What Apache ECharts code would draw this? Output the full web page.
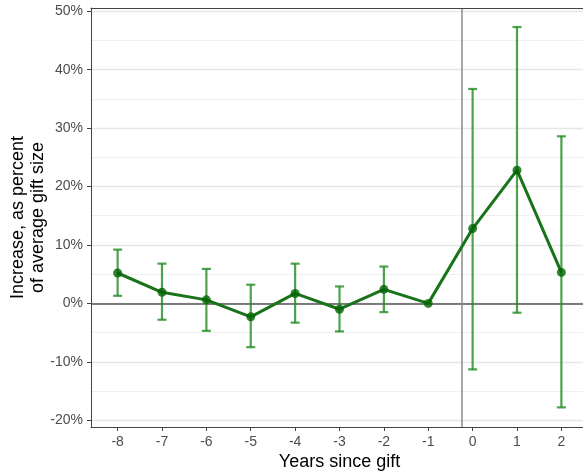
<!DOCTYPE html>
<html>
<head>
<meta charset="utf-8">
<script src="https://cdn.jsdelivr.net/npm/echarts@6/dist/echarts.min.js"></script>
<style>
html,body{margin:0;padding:0;background:#fff;}
#chart{width:583px;height:475px;}
</style>
</head>
<body>
<div id="chart"></div>
<script>
const years = [-8, -7, -6, -5, -4, -3, -2, -1, 0, 1, 2];
const estimate = [5.2, 1.9, 0.6, -2.3, 1.7, -1.0, 2.4, 0.0, 12.8, 22.8, 5.3];
const lower = [1.3, -2.8, -4.7, -7.5, -3.3, -4.8, -1.5, null, -11.3, -1.6, -17.8];
const upper = [9.2, 6.8, 5.9, 3.2, 6.8, 2.9, 6.3, null, 36.7, 47.3, 28.6];
const yTicks = [-20, -10, 0, 10, 20, 30, 40, 50];
const yMinor = [-15, -5, 5, 15, 25, 35, 45];
const giftLine = -0.25;

const FONT = 'Liberation Sans, Arial, Helvetica, sans-serif';
const chart = echarts.init(document.getElementById('chart'), null, {renderer: 'canvas'});

const errData = years.map((y, i) => [y, lower[i], upper[i]]).filter(d => d[1] !== null);

chart.setOption({
  animation: false,
  backgroundColor: '#ffffff',
  grid: {left: 91, right: -5, top: 8, bottom: 48, containLabel: false, outerBoundsMode: 'none'},
  xAxis: [{
    type: 'value', min: -8.6, max: 2.6,
    name: 'Years since gift', nameLocation: 'middle', nameGap: 26, nameMoveOverlap: false,
    nameTextStyle: {fontFamily: FONT, fontSize: 18, color: '#000'},
    axisLine: {show: true, onZero: false, lineStyle: {color: '#444', width: 1}},
    axisTick: {show: true, length: 4, lineStyle: {color: '#444'}, customValues: years},
    axisLabel: {customValues: years, margin: 8, fontFamily: FONT, fontSize: 14, color: '#4d4d4d'},
    splitLine: {show: false}
  }, {
    type: 'value', min: -8.6, max: 2.6, position: 'top',
    axisLine: {show: true, onZero: false, lineStyle: {color: '#444', width: 1}},
    axisTick: {show: false}, axisLabel: {show: false}, splitLine: {show: false}
  }],
  yAxis: {
    type: 'value', min: -21.16, max: 50.56,
    name: 'Increase, as percent\nof average gift size', nameLocation: 'middle', nameGap: 43,
    nameMoveOverlap: false,
    nameTextStyle: {fontFamily: FONT, fontSize: 18, color: '#000', lineHeight: 20},
    axisLine: {show: true, onZero: false, lineStyle: {color: '#444', width: 1}},
    axisTick: {show: true, length: 4, lineStyle: {color: '#444'}, customValues: yTicks},
    axisLabel: {customValues: yTicks, margin: 8, fontFamily: FONT, fontSize: 14, color: '#4d4d4d',
      formatter: v => v + '%'},
    splitLine: {show: false}
  },
  series: [
    {
      type: 'line', data: [], silent: true, z: 0,
      markLine: {
        silent: true, symbol: 'none', label: {show: false}, animation: false, z: 0,
        data: [
          ...yMinor.map(v => ({yAxis: v, lineStyle: {color: '#f0f0f0', width: 1, type: 'solid'}})),
          ...yTicks.map(v => ({yAxis: v, lineStyle: {color: '#e6e6e6', width: 1.3, type: 'solid'}})),
          {yAxis: 0, lineStyle: {color: '#555', width: 1.5, type: 'solid'}},
          {xAxis: giftLine, lineStyle: {color: '#8a8a8a', width: 1.5, type: 'solid'}}
        ]
      }
    },
    {
      type: 'custom', z: 2,
      data: errData,
      renderItem: function (params, api) {
        const x = api.value(0);
        const lo = api.coord([x, api.value(1)]);
        const hi = api.coord([x, api.value(2)]);
        const hw = 4.5;
        const style = {stroke: 'rgba(34,139,34,0.8)', lineWidth: 2.2, fill: null};
        return {
          type: 'group',
          children: [
            {type: 'line', shape: {x1: lo[0], y1: lo[1], x2: hi[0], y2: hi[1]}, style: style},
            {type: 'line', shape: {x1: lo[0] - hw, y1: lo[1], x2: lo[0] + hw, y2: lo[1]}, style: style},
            {type: 'line', shape: {x1: hi[0] - hw, y1: hi[1], x2: hi[0] + hw, y2: hi[1]}, style: style}
          ]
        };
      }
    },
    {
      type: 'line', z: 3,
      data: years.map((y, i) => [y, estimate[i]]),
      showSymbol: false, symbol: 'none',
      lineStyle: {color: '#19731a', width: 3}
    },
    {
      type: 'scatter', z: 4,
      data: years.map((y, i) => [y, estimate[i]]),
      symbol: 'circle', symbolSize: 9,
      itemStyle: {color: '#006400'}
    }
  ]
});
</script>
</body>
</html>
